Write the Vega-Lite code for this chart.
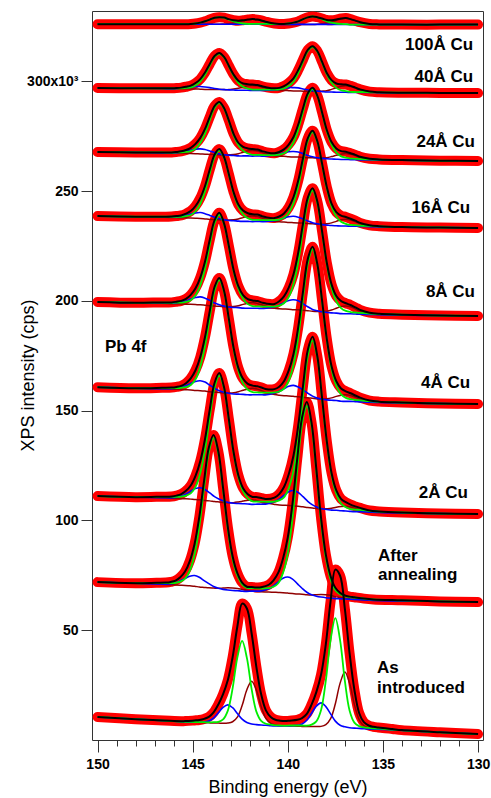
{
  "$schema": "https://vega.github.io/schema/vega-lite/v6.json",
  "width": 391,
  "height": 729,
  "autosize": {"type": "none"},
  "padding": {"left": 92, "top": 11, "right": 8, "bottom": 58},
  "config": {
    "font": "Liberation Sans",
    "view": {"stroke": "#333333", "strokeWidth": 1},
    "axis": {"labelColor": "#000000", "titleColor": "#000000", "tickColor": "#333333", "tickWidth": 1, "grid": false, "domain": false}
  },
  "datasets": {
    "spectra": [
      {"id":"100Å","be":150,"counts":326.0,"main":326.0,"high":326.0,"low":326.0},
      {"id":"100Å","be":148,"counts":326.0,"main":326.0,"high":326.0,"low":326.0},
      {"id":"100Å","be":146.6,"counts":326.0,"main":326.0,"high":326.0,"low":326.0},
      {"id":"100Å","be":146.1,"counts":326.0,"main":326.0,"high":326.0,"low":326.0},
      {"id":"100Å","be":145.85,"counts":326.0,"main":326.0,"high":326.0,"low":326.0},
      {"id":"100Å","be":145.6,"counts":326.0,"main":326.0,"high":326.0,"low":326.0},
      {"id":"100Å","be":145.35,"counts":326.0,"main":326.0,"high":326.0,"low":326.0},
      {"id":"100Å","be":145.1,"counts":326.1,"main":326.1,"high":326.0,"low":326.0},
      {"id":"100Å","be":144.85,"counts":326.3,"main":326.3,"high":326.0,"low":326.0},
      {"id":"100Å","be":144.6,"counts":326.7,"main":326.7,"high":326.0,"low":326.0},
      {"id":"100Å","be":144.35,"counts":327.3,"main":327.3,"high":326.0,"low":326.0},
      {"id":"100Å","be":144.1,"counts":328.1,"main":328.1,"high":326.0,"low":326.0},
      {"id":"100Å","be":143.85,"counts":328.9,"main":328.9,"high":326.0,"low":326.0},
      {"id":"100Å","be":143.6,"counts":329.2,"main":329.2,"high":326.0,"low":326.0},
      {"id":"100Å","be":143.35,"counts":329.0,"main":328.9,"high":326.0,"low":326.1},
      {"id":"100Å","be":143.1,"counts":328.3,"main":328.1,"high":326.0,"low":326.2},
      {"id":"100Å","be":142.85,"counts":327.8,"main":327.3,"high":326.0,"low":326.5},
      {"id":"100Å","be":142.6,"counts":327.6,"main":326.7,"high":326.0,"low":326.9},
      {"id":"100Å","be":142.35,"counts":327.8,"main":326.3,"high":326.0,"low":327.5},
      {"id":"100Å","be":142.1,"counts":328.1,"main":326.1,"high":326.0,"low":328.0},
      {"id":"100Å","be":141.85,"counts":328.3,"main":326.1,"high":326.0,"low":328.2},
      {"id":"100Å","be":141.6,"counts":328.1,"main":326.1,"high":326.0,"low":328.0},
      {"id":"100Å","be":141.35,"counts":327.6,"main":326.1,"high":326.0,"low":327.5},
      {"id":"100Å","be":141.1,"counts":327.0,"main":326.1,"high":326.0,"low":326.9},
      {"id":"100Å","be":140.7,"counts":326.3,"main":326.0,"high":325.9,"low":326.2},
      {"id":"100Å","be":140.45,"counts":326.1,"main":326.0,"high":325.9,"low":326.0},
      {"id":"100Å","be":140.2,"counts":326.1,"main":326.1,"high":325.9,"low":325.9},
      {"id":"100Å","be":139.95,"counts":326.3,"main":326.3,"high":325.9,"low":325.9},
      {"id":"100Å","be":139.7,"counts":326.7,"main":326.7,"high":325.9,"low":325.9},
      {"id":"100Å","be":139.45,"counts":327.3,"main":327.3,"high":325.9,"low":325.9},
      {"id":"100Å","be":139.2,"counts":328.3,"main":328.3,"high":325.9,"low":325.9},
      {"id":"100Å","be":138.95,"counts":329.1,"main":329.1,"high":325.9,"low":325.9},
      {"id":"100Å","be":138.7,"counts":329.5,"main":329.5,"high":325.9,"low":325.9},
      {"id":"100Å","be":138.45,"counts":329.2,"main":329.1,"high":325.9,"low":326.0},
      {"id":"100Å","be":138.2,"counts":328.6,"main":328.3,"high":325.9,"low":326.2},
      {"id":"100Å","be":137.95,"counts":327.9,"main":327.3,"high":325.9,"low":326.5},
      {"id":"100Å","be":137.7,"counts":327.8,"main":326.7,"high":325.9,"low":327.0},
      {"id":"100Å","be":137.45,"counts":328.1,"main":326.3,"high":325.9,"low":327.7},
      {"id":"100Å","be":137.2,"counts":328.6,"main":326.1,"high":325.9,"low":328.4},
      {"id":"100Å","be":136.95,"counts":328.8,"main":326.0,"high":325.9,"low":328.7},
      {"id":"100Å","be":136.7,"counts":328.3,"main":325.8,"high":325.8,"low":328.3},
      {"id":"100Å","be":136.45,"counts":327.6,"main":325.8,"high":325.8,"low":327.6},
      {"id":"100Å","be":136.2,"counts":326.9,"main":325.8,"high":325.8,"low":326.9},
      {"id":"100Å","be":135.7,"counts":326.1,"main":325.8,"high":325.8,"low":326.1},
      {"id":"100Å","be":135.2,"counts":325.9,"main":325.8,"high":325.8,"low":325.9},
      {"id":"100Å","be":134,"counts":325.8,"main":325.8,"high":325.8,"low":325.8},
      {"id":"100Å","be":132,"counts":325.8,"main":325.8,"high":325.8,"low":325.8},
      {"id":"100Å","be":130,"counts":325.8,"main":325.8,"high":325.8,"low":325.8},

      {"id":"40Å","be":150,"counts":296.9,"main":296.9,"high":296.9,"low":296.9},
      {"id":"40Å","be":148,"counts":296.8,"main":296.8,"high":296.8,"low":296.8},
      {"id":"40Å","be":146.6,"counts":296.8,"main":296.8,"high":296.7,"low":296.7},
      {"id":"40Å","be":146.1,"counts":296.8,"main":296.8,"high":296.6,"low":296.6},
      {"id":"40Å","be":145.85,"counts":296.9,"main":296.8,"high":296.7,"low":296.6},
      {"id":"40Å","be":145.6,"counts":297.1,"main":296.8,"high":296.9,"low":296.6},
      {"id":"40Å","be":145.35,"counts":297.5,"main":297.0,"high":297.1,"low":296.6},
      {"id":"40Å","be":145.1,"counts":298.0,"main":297.2,"high":297.3,"low":296.5},
      {"id":"40Å","be":144.85,"counts":299.2,"main":298.1,"high":297.6,"low":296.5},
      {"id":"40Å","be":144.6,"counts":301.0,"main":299.8,"high":297.6,"low":296.4},
      {"id":"40Å","be":144.35,"counts":304.0,"main":302.9,"high":297.4,"low":296.3},
      {"id":"40Å","be":144.1,"counts":307.9,"main":307.1,"high":297.1,"low":296.3},
      {"id":"40Å","be":143.85,"counts":311.5,"main":311.0,"high":296.7,"low":296.2},
      {"id":"40Å","be":143.6,"counts":312.9,"main":312.5,"high":296.4,"low":296.2},
      {"id":"40Å","be":143.35,"counts":311.1,"main":310.9,"high":296.2,"low":296.2},
      {"id":"40Å","be":143.1,"counts":307.1,"main":306.8,"high":296.1,"low":296.2},
      {"id":"40Å","be":142.85,"counts":303.1,"main":302.6,"high":296.0,"low":296.5},
      {"id":"40Å","be":142.6,"counts":300.2,"main":299.3,"high":295.9,"low":296.8},
      {"id":"40Å","be":142.35,"counts":299.0,"main":297.5,"high":295.9,"low":297.4},
      {"id":"40Å","be":142.1,"counts":298.7,"main":296.6,"high":295.9,"low":298.0},
      {"id":"40Å","be":141.85,"counts":298.5,"main":296.2,"high":295.8,"low":298.1},
      {"id":"40Å","be":141.6,"counts":298.3,"main":296.2,"high":295.8,"low":297.9},
      {"id":"40Å","be":141.35,"counts":297.7,"main":296.2,"high":295.8,"low":297.3},
      {"id":"40Å","be":141.1,"counts":297.2,"main":296.2,"high":295.9,"low":296.7},
      {"id":"40Å","be":140.7,"counts":296.8,"main":296.2,"high":296.1,"low":296.1},
      {"id":"40Å","be":140.45,"counts":297.0,"main":296.3,"high":296.3,"low":295.8},
      {"id":"40Å","be":140.2,"counts":297.8,"main":296.7,"high":296.7,"low":295.8},
      {"id":"40Å","be":139.95,"counts":299.2,"main":297.8,"high":297.1,"low":295.7},
      {"id":"40Å","be":139.7,"counts":301.3,"main":299.8,"high":297.1,"low":295.6},
      {"id":"40Å","be":139.45,"counts":305.1,"main":303.7,"high":297.0,"low":295.6},
      {"id":"40Å","be":139.2,"counts":309.8,"main":308.8,"high":296.5,"low":295.5},
      {"id":"40Å","be":138.95,"counts":314.3,"main":313.7,"high":296.1,"low":295.5},
      {"id":"40Å","be":138.7,"counts":316.0,"main":315.6,"high":295.7,"low":295.5},
      {"id":"40Å","be":138.45,"counts":313.8,"main":313.5,"high":295.5,"low":295.4},
      {"id":"40Å","be":138.2,"counts":308.9,"main":308.5,"high":295.3,"low":295.5},
      {"id":"40Å","be":137.95,"counts":303.8,"main":303.2,"high":295.1,"low":295.7},
      {"id":"40Å","be":137.7,"counts":300.5,"main":299.3,"high":295.1,"low":296.3},
      {"id":"40Å","be":137.45,"counts":299.0,"main":297.0,"high":295.0,"low":297.0},
      {"id":"40Å","be":137.2,"counts":298.6,"main":295.9,"high":295.0,"low":297.7},
      {"id":"40Å","be":136.95,"counts":298.5,"main":295.5,"high":295.0,"low":298.0},
      {"id":"40Å","be":136.7,"counts":297.9,"main":295.2,"high":294.9,"low":297.6},
      {"id":"40Å","be":136.45,"counts":297.1,"main":295.1,"high":294.9,"low":296.9},
      {"id":"40Å","be":136.2,"counts":296.3,"main":295.1,"high":294.9,"low":296.1},
      {"id":"40Å","be":135.7,"counts":295.3,"main":295.0,"high":294.9,"low":295.2},
      {"id":"40Å","be":135.2,"counts":295.0,"main":294.9,"high":294.8,"low":294.9},
      {"id":"40Å","be":134,"counts":294.8,"main":294.8,"high":294.7,"low":294.7},
      {"id":"40Å","be":132,"counts":294.7,"main":294.7,"high":294.7,"low":294.7},
      {"id":"40Å","be":130,"counts":294.6,"main":294.6,"high":294.6,"low":294.6},

      {"id":"24Å","be":150,"counts":267.8,"main":267.8,"high":267.8,"low":267.8},
      {"id":"24Å","be":148,"counts":267.6,"main":267.6,"high":267.6,"low":267.6},
      {"id":"24Å","be":146.6,"counts":267.6,"main":267.6,"high":267.4,"low":267.4},
      {"id":"24Å","be":146.1,"counts":267.6,"main":267.5,"high":267.4,"low":267.3},
      {"id":"24Å","be":145.85,"counts":267.8,"main":267.6,"high":267.5,"low":267.3},
      {"id":"24Å","be":145.6,"counts":268.1,"main":267.6,"high":267.7,"low":267.2},
      {"id":"24Å","be":145.35,"counts":268.7,"main":267.8,"high":268.1,"low":267.2},
      {"id":"24Å","be":145.1,"counts":269.7,"main":268.2,"high":268.6,"low":267.1},
      {"id":"24Å","be":144.85,"counts":271.5,"main":269.4,"high":269.1,"low":267.0},
      {"id":"24Å","be":144.6,"counts":274.2,"main":271.9,"high":269.2,"low":266.9},
      {"id":"24Å","be":144.35,"counts":278.3,"main":276.2,"high":268.9,"low":266.8},
      {"id":"24Å","be":144.1,"counts":283.8,"main":282.3,"high":268.2,"low":266.7},
      {"id":"24Å","be":143.85,"counts":288.7,"main":287.8,"high":267.5,"low":266.6},
      {"id":"24Å","be":143.6,"counts":290.6,"main":290.0,"high":266.9,"low":266.5},
      {"id":"24Å","be":143.35,"counts":287.8,"main":287.5,"high":266.5,"low":266.4},
      {"id":"24Å","be":143.1,"counts":282.2,"main":281.8,"high":266.3,"low":266.5},
      {"id":"24Å","be":142.85,"counts":276.1,"main":275.5,"high":266.2,"low":266.6},
      {"id":"24Å","be":142.6,"counts":272.0,"main":271.0,"high":266.0,"low":267.0},
      {"id":"24Å","be":142.35,"counts":270.1,"main":268.4,"high":266.0,"low":267.7},
      {"id":"24Å","be":142.1,"counts":269.4,"main":267.1,"high":266.0,"low":268.3},
      {"id":"24Å","be":141.85,"counts":269.1,"main":266.5,"high":265.9,"low":268.5},
      {"id":"24Å","be":141.6,"counts":268.9,"main":266.5,"high":266.0,"low":268.2},
      {"id":"24Å","be":141.35,"counts":268.2,"main":266.4,"high":265.9,"low":267.5},
      {"id":"24Å","be":141.1,"counts":267.6,"main":266.4,"high":266.0,"low":266.8},
      {"id":"24Å","be":140.7,"counts":267.2,"main":266.4,"high":266.3,"low":266.1},
      {"id":"24Å","be":140.45,"counts":267.8,"main":266.6,"high":266.7,"low":265.9},
      {"id":"24Å","be":140.2,"counts":269.0,"main":267.2,"high":267.4,"low":265.8},
      {"id":"24Å","be":139.95,"counts":271.2,"main":268.9,"high":267.9,"low":265.6},
      {"id":"24Å","be":139.7,"counts":274.6,"main":272.1,"high":268.0,"low":265.5},
      {"id":"24Å","be":139.45,"counts":280.3,"main":278.0,"high":267.8,"low":265.5},
      {"id":"24Å","be":139.2,"counts":287.7,"main":286.0,"high":267.0,"low":265.3},
      {"id":"24Å","be":138.95,"counts":294.4,"main":293.4,"high":266.2,"low":265.2},
      {"id":"24Å","be":138.7,"counts":297.0,"main":296.4,"high":265.6,"low":265.2},
      {"id":"24Å","be":138.45,"counts":293.5,"main":293.1,"high":265.2,"low":265.0},
      {"id":"24Å","be":138.2,"counts":285.9,"main":285.5,"high":264.9,"low":265.1},
      {"id":"24Å","be":137.95,"counts":277.8,"main":277.1,"high":264.7,"low":265.2},
      {"id":"24Å","be":137.7,"counts":272.3,"main":271.2,"high":264.6,"low":265.7},
      {"id":"24Å","be":137.45,"counts":269.4,"main":267.6,"high":264.5,"low":266.3},
      {"id":"24Å","be":137.2,"counts":268.2,"main":265.8,"high":264.4,"low":266.8},
      {"id":"24Å","be":136.95,"counts":267.9,"main":265.2,"high":264.4,"low":267.1},
      {"id":"24Å","be":136.7,"counts":267.2,"main":264.8,"high":264.3,"low":266.7},
      {"id":"24Å","be":136.45,"counts":266.5,"main":264.7,"high":264.3,"low":266.1},
      {"id":"24Å","be":136.2,"counts":265.6,"main":264.5,"high":264.2,"low":265.3},
      {"id":"24Å","be":135.7,"counts":264.7,"main":264.4,"high":264.2,"low":264.5},
      {"id":"24Å","be":135.2,"counts":264.4,"main":264.3,"high":264.1,"low":264.2},
      {"id":"24Å","be":134,"counts":264.1,"main":264.1,"high":264.0,"low":264.0},
      {"id":"24Å","be":132,"counts":263.8,"main":263.8,"high":263.8,"low":263.8},
      {"id":"24Å","be":130,"counts":263.7,"main":263.7,"high":263.7,"low":263.7},

      {"id":"16Å","be":150,"counts":238.6,"main":238.6,"high":238.6,"low":238.6},
      {"id":"16Å","be":148,"counts":238.3,"main":238.3,"high":238.3,"low":238.3},
      {"id":"16Å","be":146.6,"counts":238.3,"main":238.3,"high":238.1,"low":238.1},
      {"id":"16Å","be":146.1,"counts":238.4,"main":238.3,"high":238.1,"low":238.0},
      {"id":"16Å","be":145.85,"counts":238.6,"main":238.3,"high":238.2,"low":237.9},
      {"id":"16Å","be":145.6,"counts":238.9,"main":238.3,"high":238.4,"low":237.8},
      {"id":"16Å","be":145.35,"counts":239.7,"main":238.6,"high":238.9,"low":237.8},
      {"id":"16Å","be":145.1,"counts":240.9,"main":239.1,"high":239.5,"low":237.7},
      {"id":"16Å","be":144.85,"counts":243.2,"main":240.8,"high":240.0,"low":237.6},
      {"id":"16Å","be":144.6,"counts":246.8,"main":244.1,"high":240.2,"low":237.5},
      {"id":"16Å","be":144.35,"counts":252.3,"main":249.9,"high":239.7,"low":237.3},
      {"id":"16Å","be":144.1,"counts":259.8,"main":258.0,"high":238.9,"low":237.1},
      {"id":"16Å","be":143.85,"counts":266.5,"main":265.4,"high":238.1,"low":237.0},
      {"id":"16Å","be":143.6,"counts":269.1,"main":268.4,"high":237.4,"low":236.9},
      {"id":"16Å","be":143.35,"counts":265.5,"main":265.1,"high":237.0,"low":236.8},
      {"id":"16Å","be":143.1,"counts":257.8,"main":257.4,"high":236.6,"low":236.8},
      {"id":"16Å","be":142.85,"counts":249.6,"main":249.0,"high":236.5,"low":236.9},
      {"id":"16Å","be":142.6,"counts":243.9,"main":242.9,"high":236.3,"low":237.3},
      {"id":"16Å","be":142.35,"counts":241.1,"main":239.4,"high":236.2,"low":237.9},
      {"id":"16Å","be":142.1,"counts":239.9,"main":237.6,"high":236.2,"low":238.5},
      {"id":"16Å","be":141.85,"counts":239.4,"main":236.9,"high":236.1,"low":238.6},
      {"id":"16Å","be":141.6,"counts":239.3,"main":236.9,"high":236.2,"low":238.4},
      {"id":"16Å","be":141.35,"counts":238.6,"main":236.8,"high":236.1,"low":237.7},
      {"id":"16Å","be":141.1,"counts":238.0,"main":236.8,"high":236.2,"low":237.0},
      {"id":"16Å","be":140.7,"counts":237.7,"main":236.8,"high":236.5,"low":236.2},
      {"id":"16Å","be":140.45,"counts":238.4,"main":237.0,"high":237.0,"low":236.0},
      {"id":"16Å","be":140.2,"counts":239.8,"main":237.8,"high":237.7,"low":235.9},
      {"id":"16Å","be":139.95,"counts":242.6,"main":240.0,"high":238.3,"low":235.7},
      {"id":"16Å","be":139.7,"counts":247.3,"main":244.4,"high":238.5,"low":235.6},
      {"id":"16Å","be":139.45,"counts":254.8,"main":252.2,"high":238.1,"low":235.5},
      {"id":"16Å","be":139.2,"counts":264.9,"main":263.0,"high":237.3,"low":235.4},
      {"id":"16Å","be":138.95,"counts":274.0,"main":272.8,"high":236.4,"low":235.2},
      {"id":"16Å","be":138.7,"counts":277.5,"main":276.8,"high":235.6,"low":235.1},
      {"id":"16Å","be":138.45,"counts":272.8,"main":272.4,"high":235.1,"low":234.9},
      {"id":"16Å","be":138.2,"counts":262.6,"main":262.2,"high":234.7,"low":234.9},
      {"id":"16Å","be":137.95,"counts":251.9,"main":251.1,"high":234.5,"low":235.1},
      {"id":"16Å","be":137.7,"counts":244.3,"main":243.1,"high":234.3,"low":235.5},
      {"id":"16Å","be":137.45,"counts":240.4,"main":238.4,"high":234.2,"low":236.2},
      {"id":"16Å","be":137.2,"counts":238.8,"main":236.0,"high":234.1,"low":236.9},
      {"id":"16Å","be":136.95,"counts":238.2,"main":235.1,"high":234.1,"low":237.2},
      {"id":"16Å","be":136.7,"counts":237.4,"main":234.6,"high":234.0,"low":236.8},
      {"id":"16Å","be":136.45,"counts":236.5,"main":234.5,"high":234.0,"low":236.0},
      {"id":"16Å","be":136.2,"counts":235.5,"main":234.3,"high":233.9,"low":235.1},
      {"id":"16Å","be":135.7,"counts":234.4,"main":234.1,"high":233.8,"low":234.1},
      {"id":"16Å","be":135.2,"counts":234.0,"main":233.9,"high":233.7,"low":233.8},
      {"id":"16Å","be":134,"counts":233.6,"main":233.6,"high":233.5,"low":233.5},
      {"id":"16Å","be":132,"counts":233.4,"main":233.4,"high":233.4,"low":233.4},
      {"id":"16Å","be":130,"counts":233.2,"main":233.2,"high":233.2,"low":233.2},

      {"id":"8Å","be":150,"counts":199.5,"main":199.5,"high":199.5,"low":199.5},
      {"id":"8Å","be":148,"counts":199.1,"main":199.1,"high":199.1,"low":199.1},
      {"id":"8Å","be":146.6,"counts":199.3,"main":199.2,"high":199.0,"low":198.9},
      {"id":"8Å","be":146.1,"counts":199.3,"main":199.1,"high":198.9,"low":198.7},
      {"id":"8Å","be":145.85,"counts":199.6,"main":199.2,"high":199.1,"low":198.7},
      {"id":"8Å","be":145.6,"counts":200.0,"main":199.2,"high":199.4,"low":198.6},
      {"id":"8Å","be":145.35,"counts":200.9,"main":199.5,"high":199.9,"low":198.5},
      {"id":"8Å","be":145.1,"counts":202.7,"main":200.3,"high":200.8,"low":198.4},
      {"id":"8Å","be":144.85,"counts":205.7,"main":202.5,"high":201.5,"low":198.3},
      {"id":"8Å","be":144.6,"counts":210.6,"main":207.0,"high":201.8,"low":198.2},
      {"id":"8Å","be":144.35,"counts":217.9,"main":214.7,"high":201.2,"low":198.0},
      {"id":"8Å","be":144.1,"counts":227.8,"main":225.4,"high":200.2,"low":197.8},
      {"id":"8Å","be":143.85,"counts":236.6,"main":235.2,"high":199.0,"low":197.6},
      {"id":"8Å","be":143.6,"counts":240.1,"main":239.2,"high":198.2,"low":197.5},
      {"id":"8Å","be":143.35,"counts":235.3,"main":234.8,"high":197.6,"low":197.3},
      {"id":"8Å","be":143.1,"counts":225.1,"main":224.6,"high":197.2,"low":197.3},
      {"id":"8Å","be":142.85,"counts":214.2,"main":213.6,"high":197.0,"low":197.4},
      {"id":"8Å","be":142.6,"counts":206.7,"main":205.6,"high":196.9,"low":197.8},
      {"id":"8Å","be":142.35,"counts":202.6,"main":200.9,"high":196.7,"low":198.4},
      {"id":"8Å","be":142.1,"counts":200.8,"main":198.5,"high":196.6,"low":198.9},
      {"id":"8Å","be":141.85,"counts":200.2,"main":197.6,"high":196.6,"low":199.2},
      {"id":"8Å","be":141.6,"counts":199.9,"main":197.5,"high":196.6,"low":198.8},
      {"id":"8Å","be":141.35,"counts":199.2,"main":197.4,"high":196.5,"low":198.1},
      {"id":"8Å","be":141.1,"counts":198.7,"main":197.4,"high":196.7,"low":197.4},
      {"id":"8Å","be":140.7,"counts":198.6,"main":197.4,"high":197.2,"low":196.6},
      {"id":"8Å","be":140.45,"counts":199.8,"main":197.8,"high":198.0,"low":196.4},
      {"id":"8Å","be":140.2,"counts":202.0,"main":198.9,"high":199.2,"low":196.3},
      {"id":"8Å","be":139.95,"counts":206.0,"main":201.8,"high":200.2,"low":196.2},
      {"id":"8Å","be":139.7,"counts":212.1,"main":207.6,"high":200.5,"low":196.0},
      {"id":"8Å","be":139.45,"counts":222.0,"main":217.9,"high":200.0,"low":195.9},
      {"id":"8Å","be":139.2,"counts":235.1,"main":232.1,"high":198.7,"low":195.7},
      {"id":"8Å","be":138.95,"counts":246.9,"main":245.1,"high":197.3,"low":195.5},
      {"id":"8Å","be":138.7,"counts":251.3,"main":250.3,"high":196.1,"low":195.3},
      {"id":"8Å","be":138.45,"counts":245.3,"main":244.6,"high":195.5,"low":195.2},
      {"id":"8Å","be":138.2,"counts":231.8,"main":231.2,"high":195.0,"low":195.2},
      {"id":"8Å","be":137.95,"counts":217.4,"main":216.6,"high":194.7,"low":195.3},
      {"id":"8Å","be":137.7,"counts":207.5,"main":206.0,"high":194.5,"low":195.8},
      {"id":"8Å","be":137.45,"counts":202.2,"main":199.8,"high":194.4,"low":196.6},
      {"id":"8Å","be":137.2,"counts":199.9,"main":196.7,"high":194.2,"low":197.4},
      {"id":"8Å","be":136.95,"counts":198.9,"main":195.4,"high":194.1,"low":197.6},
      {"id":"8Å","be":136.7,"counts":198.1,"main":194.9,"high":194.1,"low":197.3},
      {"id":"8Å","be":136.45,"counts":197.0,"main":194.7,"high":194.0,"low":196.3},
      {"id":"8Å","be":136.2,"counts":195.9,"main":194.5,"high":193.9,"low":195.3},
      {"id":"8Å","be":135.7,"counts":194.6,"main":194.2,"high":193.8,"low":194.2},
      {"id":"8Å","be":135.2,"counts":194.1,"main":194.0,"high":193.7,"low":193.8},
      {"id":"8Å","be":134,"counts":193.7,"main":193.7,"high":193.5,"low":193.5},
      {"id":"8Å","be":132,"counts":193.3,"main":193.3,"high":193.3,"low":193.3},
      {"id":"8Å","be":130,"counts":193.1,"main":193.1,"high":193.1,"low":193.1},

      {"id":"4Å","be":150,"counts":160.7,"main":160.7,"high":160.7,"low":160.7},
      {"id":"4Å","be":148,"counts":160.2,"main":160.2,"high":160.2,"low":160.2},
      {"id":"4Å","be":146.6,"counts":160.4,"main":160.3,"high":160.0,"low":159.9},
      {"id":"4Å","be":146.1,"counts":160.5,"main":160.3,"high":160.0,"low":159.8},
      {"id":"4Å","be":145.85,"counts":160.8,"main":160.3,"high":160.2,"low":159.7},
      {"id":"4Å","be":145.6,"counts":161.3,"main":160.4,"high":160.5,"low":159.6},
      {"id":"4Å","be":145.35,"counts":162.5,"main":160.7,"high":161.3,"low":159.5},
      {"id":"4Å","be":145.1,"counts":164.7,"main":161.7,"high":162.4,"low":159.4},
      {"id":"4Å","be":144.85,"counts":168.4,"main":164.3,"high":163.3,"low":159.2},
      {"id":"4Å","be":144.6,"counts":174.4,"main":169.9,"high":163.6,"low":159.1},
      {"id":"4Å","be":144.35,"counts":183.5,"main":179.4,"high":163.0,"low":158.9},
      {"id":"4Å","be":144.1,"counts":195.4,"main":192.4,"high":161.6,"low":158.6},
      {"id":"4Å","be":143.85,"counts":206.3,"main":204.5,"high":160.2,"low":158.4},
      {"id":"4Å","be":143.6,"counts":210.4,"main":209.4,"high":159.1,"low":158.3},
      {"id":"4Å","be":143.35,"counts":204.6,"main":204.0,"high":158.4,"low":158.0},
      {"id":"4Å","be":143.1,"counts":192.0,"main":191.5,"high":157.9,"low":158.0},
      {"id":"4Å","be":142.85,"counts":178.7,"main":178.0,"high":157.6,"low":158.1},
      {"id":"4Å","be":142.6,"counts":169.5,"main":168.2,"high":157.5,"low":158.6},
      {"id":"4Å","be":142.35,"counts":164.5,"main":162.4,"high":157.4,"low":159.3},
      {"id":"4Å","be":142.1,"counts":162.2,"main":159.5,"high":157.2,"low":159.9},
      {"id":"4Å","be":141.85,"counts":161.4,"main":158.4,"high":157.2,"low":160.2},
      {"id":"4Å","be":141.6,"counts":161.1,"main":158.3,"high":157.2,"low":159.8},
      {"id":"4Å","be":141.35,"counts":160.4,"main":158.2,"high":157.2,"low":159.0},
      {"id":"4Å","be":141.1,"counts":159.7,"main":158.2,"high":157.2,"low":158.1},
      {"id":"4Å","be":140.7,"counts":159.8,"main":158.3,"high":158.0,"low":157.3},
      {"id":"4Å","be":140.45,"counts":160.9,"main":158.7,"high":158.8,"low":157.0},
      {"id":"4Å","be":140.2,"counts":163.4,"main":160.0,"high":160.0,"low":156.8},
      {"id":"4Å","be":139.95,"counts":168.3,"main":163.7,"high":161.1,"low":156.7},
      {"id":"4Å","be":139.7,"counts":175.8,"main":170.8,"high":161.5,"low":156.5},
      {"id":"4Å","be":139.45,"counts":188.0,"main":183.5,"high":160.8,"low":156.3},
      {"id":"4Å","be":139.2,"counts":204.2,"main":200.9,"high":159.4,"low":156.1},
      {"id":"4Å","be":138.95,"counts":219.0,"main":217.0,"high":157.9,"low":155.9},
      {"id":"4Å","be":138.7,"counts":224.6,"main":223.4,"high":156.6,"low":155.6},
      {"id":"4Å","be":138.45,"counts":216.9,"main":216.3,"high":155.7,"low":155.3},
      {"id":"4Å","be":138.2,"counts":200.3,"main":199.8,"high":155.2,"low":155.3},
      {"id":"4Å","be":137.95,"counts":182.7,"main":182.0,"high":154.9,"low":155.4},
      {"id":"4Å","be":137.7,"counts":170.2,"main":168.9,"high":154.7,"low":155.8},
      {"id":"4Å","be":137.45,"counts":163.4,"main":161.3,"high":154.6,"low":156.5},
      {"id":"4Å","be":137.2,"counts":160.1,"main":157.4,"high":154.3,"low":157.0},
      {"id":"4Å","be":136.95,"counts":158.8,"main":155.8,"high":154.2,"low":157.2},
      {"id":"4Å","be":136.7,"counts":157.9,"main":155.2,"high":154.2,"low":156.9},
      {"id":"4Å","be":136.45,"counts":156.9,"main":154.9,"high":154.1,"low":156.1},
      {"id":"4Å","be":136.2,"counts":155.9,"main":154.7,"high":154.0,"low":155.2},
      {"id":"4Å","be":135.7,"counts":154.6,"main":154.3,"high":153.8,"low":154.1},
      {"id":"4Å","be":135.2,"counts":154.1,"main":154.0,"high":153.7,"low":153.8},
      {"id":"4Å","be":134,"counts":153.7,"main":153.7,"high":153.5,"low":153.5},
      {"id":"4Å","be":132,"counts":153.2,"main":153.2,"high":153.2,"low":153.2},
      {"id":"4Å","be":130,"counts":153.0,"main":153.0,"high":153.0,"low":153.0},

      {"id":"2Å","be":150,"counts":111.1,"main":111.1,"high":111.1,"low":111.1},
      {"id":"2Å","be":148,"counts":110.6,"main":110.6,"high":110.6,"low":110.6},
      {"id":"2Å","be":146.6,"counts":110.8,"main":110.7,"high":110.4,"low":110.3},
      {"id":"2Å","be":146.1,"counts":110.9,"main":110.7,"high":110.3,"low":110.1},
      {"id":"2Å","be":145.85,"counts":111.3,"main":110.7,"high":110.6,"low":110.0},
      {"id":"2Å","be":145.6,"counts":112.0,"main":110.8,"high":111.1,"low":109.9},
      {"id":"2Å","be":145.35,"counts":113.5,"main":111.3,"high":112.1,"low":109.9},
      {"id":"2Å","be":145.1,"counts":115.9,"main":112.3,"high":113.3,"low":109.7},
      {"id":"2Å","be":144.85,"counts":120.3,"main":115.3,"high":114.5,"low":109.5},
      {"id":"2Å","be":144.6,"counts":127.0,"main":121.5,"high":114.9,"low":109.4},
      {"id":"2Å","be":144.35,"counts":137.1,"main":132.1,"high":114.1,"low":109.1},
      {"id":"2Å","be":144.1,"counts":150.5,"main":146.9,"high":112.5,"low":108.9},
      {"id":"2Å","be":143.85,"counts":162.6,"main":160.4,"high":110.8,"low":108.6},
      {"id":"2Å","be":143.6,"counts":167.1,"main":165.9,"high":109.6,"low":108.4},
      {"id":"2Å","be":143.35,"counts":160.6,"main":159.9,"high":108.7,"low":108.2},
      {"id":"2Å","be":143.1,"counts":146.3,"main":145.9,"high":108.1,"low":108.1},
      {"id":"2Å","be":142.85,"counts":131.2,"main":130.7,"high":107.8,"low":108.1},
      {"id":"2Å","be":142.6,"counts":120.6,"main":119.7,"high":107.7,"low":108.4},
      {"id":"2Å","be":142.35,"counts":114.7,"main":113.3,"high":107.6,"low":108.8},
      {"id":"2Å","be":142.1,"counts":111.9,"main":110.0,"high":107.5,"low":109.2},
      {"id":"2Å","be":141.85,"counts":110.7,"main":108.7,"high":107.3,"low":109.3},
      {"id":"2Å","be":141.6,"counts":110.6,"main":108.6,"high":107.4,"low":109.0},
      {"id":"2Å","be":141.35,"counts":110.1,"main":108.6,"high":107.4,"low":108.5},
      {"id":"2Å","be":141.1,"counts":109.7,"main":108.5,"high":107.5,"low":107.9},
      {"id":"2Å","be":140.7,"counts":110.4,"main":108.6,"high":108.5,"low":107.3},
      {"id":"2Å","be":140.45,"counts":112.0,"main":109.1,"high":109.7,"low":107.0},
      {"id":"2Å","be":140.2,"counts":115.2,"main":110.5,"high":111.4,"low":106.9},
      {"id":"2Å","be":139.95,"counts":121.0,"main":114.7,"high":113.1,"low":106.8},
      {"id":"2Å","be":139.7,"counts":129.6,"main":122.6,"high":113.6,"low":106.6},
      {"id":"2Å","be":139.45,"counts":143.3,"main":137.0,"high":112.7,"low":106.4},
      {"id":"2Å","be":139.2,"counts":161.2,"main":156.6,"high":110.8,"low":106.2},
      {"id":"2Å","be":138.95,"counts":177.5,"main":174.7,"high":108.7,"low":105.9},
      {"id":"2Å","be":138.7,"counts":183.6,"main":182.0,"high":107.1,"low":105.7},
      {"id":"2Å","be":138.45,"counts":174.9,"main":174.1,"high":106.0,"low":105.4},
      {"id":"2Å","be":138.2,"counts":155.9,"main":155.4,"high":105.3,"low":105.2},
      {"id":"2Å","be":137.95,"counts":136.1,"main":135.4,"high":105.0,"low":105.3},
      {"id":"2Å","be":137.7,"counts":121.6,"main":120.6,"high":104.7,"low":105.5},
      {"id":"2Å","be":137.45,"counts":113.7,"main":112.1,"high":104.6,"low":106.0},
      {"id":"2Å","be":137.2,"counts":109.8,"main":107.7,"high":104.4,"low":106.3},
      {"id":"2Å","be":136.95,"counts":108.3,"main":106.0,"high":104.3,"low":106.4},
      {"id":"2Å","be":136.7,"counts":107.2,"main":105.2,"high":104.1,"low":106.1},
      {"id":"2Å","be":136.45,"counts":106.4,"main":104.9,"high":104.0,"low":105.5},
      {"id":"2Å","be":136.2,"counts":105.7,"main":104.8,"high":104.0,"low":104.9},
      {"id":"2Å","be":135.7,"counts":104.5,"main":104.3,"high":103.8,"low":104.0},
      {"id":"2Å","be":135.2,"counts":104.1,"main":104.0,"high":103.6,"low":103.7},
      {"id":"2Å","be":134,"counts":103.6,"main":103.6,"high":103.4,"low":103.4},
      {"id":"2Å","be":132,"counts":103.1,"main":103.1,"high":103.1,"low":103.1},
      {"id":"2Å","be":130,"counts":102.9,"main":102.9,"high":102.9,"low":102.9},

      {"id":"annealed","be":150,"counts":71.9,"main":71.9,"high":71.9,"low":71.9},
      {"id":"annealed","be":148,"counts":71.4,"main":71.4,"high":71.4,"low":71.4},
      {"id":"annealed","be":146.9,"counts":71.6,"main":71.5,"high":71.1,"low":71.0},
      {"id":"annealed","be":146.4,"counts":71.7,"main":71.5,"high":71.0,"low":70.8},
      {"id":"annealed","be":146.15,"counts":72.0,"main":71.5,"high":71.2,"low":70.7},
      {"id":"annealed","be":145.9,"counts":72.6,"main":71.6,"high":71.6,"low":70.6},
      {"id":"annealed","be":145.65,"counts":74.1,"main":72.1,"high":72.5,"low":70.5},
      {"id":"annealed","be":145.4,"counts":76.7,"main":73.5,"high":73.6,"low":70.4},
      {"id":"annealed","be":145.15,"counts":81.5,"main":77.1,"high":74.6,"low":70.2},
      {"id":"annealed","be":144.9,"counts":89.3,"main":84.4,"high":74.9,"low":70.0},
      {"id":"annealed","be":144.65,"counts":101.6,"main":97.2,"high":74.1,"low":69.7},
      {"id":"annealed","be":144.4,"counts":118.0,"main":114.7,"high":72.6,"low":69.5},
      {"id":"annealed","be":144.15,"counts":133.1,"main":131.0,"high":71.2,"low":69.3},
      {"id":"annealed","be":143.9,"counts":138.9,"main":137.6,"high":69.9,"low":69.2},
      {"id":"annealed","be":143.65,"counts":131.4,"main":130.4,"high":69.1,"low":69.1},
      {"id":"annealed","be":143.4,"counts":114.7,"main":113.7,"high":68.6,"low":69.2},
      {"id":"annealed","be":143.15,"counts":96.9,"main":95.7,"high":68.3,"low":69.3},
      {"id":"annealed","be":142.9,"counts":83.7,"main":82.4,"high":68.1,"low":69.2},
      {"id":"annealed","be":142.65,"counts":76.0,"main":74.8,"high":68.0,"low":69.0},
      {"id":"annealed","be":142.4,"counts":71.7,"main":70.9,"high":67.8,"low":68.6},
      {"id":"annealed","be":142.15,"counts":69.8,"main":69.3,"high":67.7,"low":68.2},
      {"id":"annealed","be":141.9,"counts":69.7,"main":69.2,"high":67.8,"low":67.9},
      {"id":"annealed","be":141.65,"counts":69.5,"main":69.1,"high":67.8,"low":67.6},
      {"id":"annealed","be":141.4,"counts":69.6,"main":69.0,"high":67.9,"low":67.5},
      {"id":"annealed","be":141.0,"counts":70.7,"main":69.2,"high":68.9,"low":67.4},
      {"id":"annealed","be":140.75,"counts":72.7,"main":69.8,"high":70.2,"low":67.3},
      {"id":"annealed","be":140.5,"counts":76.2,"main":71.4,"high":72.0,"low":67.2},
      {"id":"annealed","be":140.25,"counts":82.7,"main":76.1,"high":73.7,"low":67.1},
      {"id":"annealed","be":140.0,"counts":92.3,"main":85.0,"high":74.2,"low":66.9},
      {"id":"annealed","be":139.75,"counts":107.8,"main":101.2,"high":73.3,"low":66.7},
      {"id":"annealed","be":139.5,"counts":128.3,"main":123.4,"high":71.2,"low":66.5},
      {"id":"annealed","be":139.25,"counts":146.8,"main":143.9,"high":69.1,"low":66.4},
      {"id":"annealed","be":139.0,"counts":153.9,"main":152.1,"high":67.3,"low":66.1},
      {"id":"annealed","be":138.75,"counts":144.4,"main":143.1,"high":66.1,"low":66.0},
      {"id":"annealed","be":138.5,"counts":123.5,"main":122.2,"high":65.5,"low":66.2},
      {"id":"annealed","be":138.25,"counts":101.0,"main":99.4,"high":65.1,"low":66.3},
      {"id":"annealed","be":138.0,"counts":84.4,"main":82.8,"high":64.8,"low":66.2},
      {"id":"annealed","be":137.75,"counts":74.6,"main":73.1,"high":64.6,"low":65.9},
      {"id":"annealed","be":137.5,"counts":69.3,"main":68.2,"high":64.4,"low":65.3},
      {"id":"annealed","be":137.25,"counts":67.0,"main":66.4,"high":64.3,"low":64.9},
      {"id":"annealed","be":137.0,"counts":65.8,"main":65.5,"high":64.2,"low":64.5},
      {"id":"annealed","be":136.75,"counts":65.3,"main":65.1,"high":64.1,"low":64.3},
      {"id":"annealed","be":136.5,"counts":65.0,"main":64.9,"high":64.0,"low":64.1},
      {"id":"annealed","be":136.0,"counts":64.4,"main":64.4,"high":63.8,"low":63.8},
      {"id":"annealed","be":135.5,"counts":64.0,"main":64.0,"high":63.6,"low":63.6},
      {"id":"annealed","be":134,"counts":63.6,"main":63.6,"high":63.3,"low":63.3},
      {"id":"annealed","be":132,"counts":63.1,"main":63.1,"high":63.1,"low":63.1},
      {"id":"annealed","be":130,"counts":62.8,"main":62.8,"high":62.8,"low":62.8},

      {"id":"as-introduced","be":150,"counts":10.5,"main":10.5,"high":10.5,"low":10.5},
      {"id":"as-introduced","be":148,"counts":9.5,"main":9.5,"high":9.5,"low":9.5},
      {"id":"as-introduced","be":146.5,"counts":8.9,"main":8.8,"high":8.8,"low":8.8},
      {"id":"as-introduced","be":145.4,"counts":8.6,"main":8.3,"high":8.2,"low":8.2},
      {"id":"as-introduced","be":144.9,"counts":8.9,"main":8.2,"high":8.1,"low":8.1},
      {"id":"as-introduced","be":144.65,"counts":9.1,"main":8.1,"high":8.1,"low":8.0},
      {"id":"as-introduced","be":144.4,"counts":9.6,"main":8.1,"high":8.2,"low":7.9},
      {"id":"as-introduced","be":144.15,"counts":10.5,"main":8.0,"high":8.7,"low":7.8},
      {"id":"as-introduced","be":143.9,"counts":12.6,"main":8.1,"high":10.0,"low":7.7},
      {"id":"as-introduced","be":143.65,"counts":16.2,"main":8.3,"high":12.4,"low":7.7},
      {"id":"as-introduced","be":143.4,"counts":20.9,"main":9.4,"high":14.9,"low":7.6},
      {"id":"as-introduced","be":143.15,"counts":27.3,"main":13.4,"high":16.0,"low":7.7},
      {"id":"as-introduced","be":142.9,"counts":37.7,"main":23.5,"high":14.7,"low":8.3},
      {"id":"as-introduced","be":142.65,"counts":51.7,"main":37.6,"high":12.1,"low":10.4},
      {"id":"as-introduced","be":142.4,"counts":62.1,"main":45.1,"high":9.5,"low":15.7},
      {"id":"as-introduced","be":142.15,"counts":59.9,"main":37.4,"high":8.0,"low":22.9},
      {"id":"as-introduced","be":141.9,"counts":48.5,"main":23.2,"high":7.3,"low":26.8},
      {"id":"as-introduced","be":141.65,"counts":33.2,"main":12.9,"high":7.0,"low":22.7},
      {"id":"as-introduced","be":141.4,"counts":20.8,"main":8.7,"high":6.8,"low":15.3},
      {"id":"as-introduced","be":141.15,"counts":13.5,"main":7.4,"high":6.7,"low":9.8},
      {"id":"as-introduced","be":140.9,"counts":10.5,"main":7.0,"high":6.5,"low":7.6},
      {"id":"as-introduced","be":140.65,"counts":9.2,"main":6.7,"high":6.4,"low":6.8},
      {"id":"as-introduced","be":140.4,"counts":8.8,"main":6.6,"high":6.4,"low":6.5},
      {"id":"as-introduced","be":140.15,"counts":8.6,"main":6.5,"high":6.4,"low":6.5},
      {"id":"as-introduced","be":139.9,"counts":8.8,"main":6.6,"high":6.4,"low":6.4},
      {"id":"as-introduced","be":139.5,"counts":9.2,"main":6.6,"high":6.7,"low":6.3},
      {"id":"as-introduced","be":139.25,"counts":10.0,"main":6.6,"high":7.3,"low":6.2},
      {"id":"as-introduced","be":139.0,"counts":11.9,"main":6.5,"high":9.0,"low":6.1},
      {"id":"as-introduced","be":138.75,"counts":16.1,"main":7.0,"high":12.2,"low":6.1},
      {"id":"as-introduced","be":138.5,"counts":21.8,"main":8.5,"high":15.4,"low":6.1},
      {"id":"as-introduced","be":138.25,"counts":29.8,"main":13.7,"high":16.9,"low":6.2},
      {"id":"as-introduced","be":138.0,"counts":43.7,"main":27.1,"high":15.2,"low":7.0},
      {"id":"as-introduced","be":137.75,"counts":63.2,"main":45.6,"high":11.9,"low":9.7},
      {"id":"as-introduced","be":137.5,"counts":77.6,"main":55.5,"high":8.6,"low":16.5},
      {"id":"as-introduced","be":137.25,"counts":74.8,"main":45.4,"high":6.7,"low":25.9},
      {"id":"as-introduced","be":137.0,"counts":59.7,"main":26.9,"high":6.0,"low":31.0},
      {"id":"as-introduced","be":136.75,"counts":39.3,"main":13.3,"high":5.6,"low":25.8},
      {"id":"as-introduced","be":136.5,"counts":22.9,"main":7.9,"high":5.4,"low":16.2},
      {"id":"as-introduced","be":136.25,"counts":12.3,"main":6.3,"high":5.3,"low":9.3},
      {"id":"as-introduced","be":136.0,"counts":8.1,"main":5.7,"high":5.1,"low":6.5},
      {"id":"as-introduced","be":135.75,"counts":6.6,"main":5.5,"high":5.0,"low":5.5},
      {"id":"as-introduced","be":135.5,"counts":6.0,"main":5.3,"high":4.9,"low":5.2},
      {"id":"as-introduced","be":135.25,"counts":5.7,"main":5.2,"high":4.9,"low":5.1},
      {"id":"as-introduced","be":135.0,"counts":5.5,"main":5.1,"high":4.8,"low":5.0},
      {"id":"as-introduced","be":134.5,"counts":5.0,"main":4.7,"high":4.6,"low":4.7},
      {"id":"as-introduced","be":134.0,"counts":4.5,"main":4.4,"high":4.4,"low":4.4},
      {"id":"as-introduced","be":132,"counts":3.5,"main":3.5,"high":3.5,"low":3.5},
      {"id":"as-introduced","be":130,"counts":2.7,"main":2.7,"high":2.7,"low":2.7}
    ],
    "labels": [
      {"label":"100Å Cu","be":130.26,"kcps":314.2,"anchor":"end"},
      {"label":"40Å Cu","be":130.26,"kcps":299.7,"anchor":"end"},
      {"label":"24Å Cu","be":130.16,"kcps":270.1,"anchor":"end"},
      {"label":"16Å Cu","be":130.42,"kcps":240.0,"anchor":"end"},
      {"label":"8Å Cu","be":130.16,"kcps":201.8,"anchor":"end"},
      {"label":"4Å Cu","be":130.42,"kcps":160.3,"anchor":"end"},
      {"label":"2Å Cu","be":130.53,"kcps":110.2,"anchor":"end"},
      {"label":"After","be":135.26,"kcps":81.3,"anchor":"start"},
      {"label":"annealing","be":135.26,"kcps":72.9,"anchor":"start"},
      {"label":"As","be":135.31,"kcps":30.5,"anchor":"start"},
      {"label":"introduced","be":135.31,"kcps":21.4,"anchor":"start"},
      {"label":"Pb 4f","be":149.61,"kcps":176.7,"anchor":"start"}
    ]
  },
  "encoding": {
    "x": {
      "field": "be",
      "type": "quantitative",
      "title": "Binding energy (eV)",
      "scale": {"domain": [129.74, 150.29], "reverse": true, "nice": false, "zero": false},
      "axis": {
        "values": [130,131,132,133,134,135,136,137,138,139,140,141,142,143,144,145,146,147,148,149,150],
        "labelExpr": "datum.value % 5 === 0 ? datum.label : ''",
        "tickSize": {"condition": {"test": "datum.value % 5 === 0", "value": 12}, "value": 6},
        "labelPadding": 5,
        "labelFontSize": 14,
        "labelFontWeight": "bold",
        "labelFlush": false,
        "labelOverlap": false,
        "titleFontSize": 18,
        "titleFontWeight": "normal",
        "titleY": 52,
        "titleBaseline": "alphabetic"
      }
    }
  },
  "layer": [
    {
      "data": {"name": "spectra"},
      "mark": {"type": "line", "color": "#ff0000", "strokeWidth": 10, "interpolate": "catmull-rom", "strokeCap": "round", "strokeJoin": "round"},
      "encoding": {
        "y": {"field": "counts", "type": "quantitative", "title": "XPS intensity (cps)", "scale": {"domain": [0, 332], "nice": false, "zero": false},
          "axis": {"values": [50,100,150,200,250,300], "labelExpr": "datum.value === 300 ? '300x10³' : datum.label", "tickSize": 11, "labelPadding": 3, "labelFontSize": 14, "labelFontWeight": "bold", "labelFlush": false, "labelOverlap": false, "titleFontSize": 18, "titleFontWeight": "normal", "titleX": -59, "titleY": 364, "titleAngle": -90, "titleBaseline": "alphabetic", "titleAlign": "center"}},
        "detail": {"field": "id"}
      }
    },
    {
      "data": {"name": "spectra"},
      "mark": {"type": "line", "color": "#900000", "strokeWidth": 1.5, "interpolate": "catmull-rom"},
      "encoding": {
        "y": {"field": "low", "type": "quantitative", "title": "XPS intensity (cps)", "scale": {"domain": [0, 332], "nice": false, "zero": false},
          "axis": {"values": [50,100,150,200,250,300], "labelExpr": "datum.value === 300 ? '300x10³' : datum.label", "tickSize": 11, "labelPadding": 3, "labelFontSize": 14, "labelFontWeight": "bold", "labelFlush": false, "labelOverlap": false, "titleFontSize": 18, "titleFontWeight": "normal", "titleX": -59, "titleY": 364, "titleAngle": -90, "titleBaseline": "alphabetic", "titleAlign": "center"}},
        "detail": {"field": "id"}
      }
    },
    {
      "data": {"name": "spectra"},
      "mark": {"type": "line", "color": "#0000ff", "strokeWidth": 1.6, "interpolate": "catmull-rom"},
      "encoding": {
        "y": {"field": "high", "type": "quantitative", "title": "XPS intensity (cps)", "scale": {"domain": [0, 332], "nice": false, "zero": false},
          "axis": {"values": [50,100,150,200,250,300], "labelExpr": "datum.value === 300 ? '300x10³' : datum.label", "tickSize": 11, "labelPadding": 3, "labelFontSize": 14, "labelFontWeight": "bold", "labelFlush": false, "labelOverlap": false, "titleFontSize": 18, "titleFontWeight": "normal", "titleX": -59, "titleY": 364, "titleAngle": -90, "titleBaseline": "alphabetic", "titleAlign": "center"}},
        "detail": {"field": "id"}
      }
    },
    {
      "data": {"name": "spectra"},
      "mark": {"type": "line", "color": "#00ee00", "strokeWidth": 1.8, "interpolate": "catmull-rom"},
      "encoding": {
        "y": {"field": "main", "type": "quantitative", "title": "XPS intensity (cps)", "scale": {"domain": [0, 332], "nice": false, "zero": false},
          "axis": {"values": [50,100,150,200,250,300], "labelExpr": "datum.value === 300 ? '300x10³' : datum.label", "tickSize": 11, "labelPadding": 3, "labelFontSize": 14, "labelFontWeight": "bold", "labelFlush": false, "labelOverlap": false, "titleFontSize": 18, "titleFontWeight": "normal", "titleX": -59, "titleY": 364, "titleAngle": -90, "titleBaseline": "alphabetic", "titleAlign": "center"}},
        "detail": {"field": "id"}
      }
    },
    {
      "data": {"name": "spectra"},
      "mark": {"type": "line", "color": "#000000", "strokeWidth": 2, "interpolate": "catmull-rom"},
      "encoding": {
        "y": {"field": "counts", "type": "quantitative", "title": "XPS intensity (cps)", "scale": {"domain": [0, 332], "nice": false, "zero": false},
          "axis": {"values": [50,100,150,200,250,300], "labelExpr": "datum.value === 300 ? '300x10³' : datum.label", "tickSize": 11, "labelPadding": 3, "labelFontSize": 14, "labelFontWeight": "bold", "labelFlush": false, "labelOverlap": false, "titleFontSize": 18, "titleFontWeight": "normal", "titleX": -59, "titleY": 364, "titleAngle": -90, "titleBaseline": "alphabetic", "titleAlign": "center"}},
        "detail": {"field": "id"}
      }
    },
    {
      "data": {"name": "labels"},
      "transform": [{"filter": "datum.anchor === 'end'"}],
      "mark": {"type": "text", "align": "right", "baseline": "alphabetic", "fontSize": 17, "fontWeight": "bold", "color": "#000000"},
      "encoding": {
        "y": {"field": "kcps", "type": "quantitative", "title": "XPS intensity (cps)", "scale": {"domain": [0, 332], "nice": false, "zero": false},
          "axis": {"values": [50,100,150,200,250,300], "labelExpr": "datum.value === 300 ? '300x10³' : datum.label", "tickSize": 11, "labelPadding": 3, "labelFontSize": 14, "labelFontWeight": "bold", "labelFlush": false, "labelOverlap": false, "titleFontSize": 18, "titleFontWeight": "normal", "titleX": -59, "titleY": 364, "titleAngle": -90, "titleBaseline": "alphabetic", "titleAlign": "center"}},
        "text": {"field": "label"}
      }
    },
    {
      "data": {"name": "labels"},
      "transform": [{"filter": "datum.anchor === 'start'"}],
      "mark": {"type": "text", "align": "left", "baseline": "alphabetic", "fontSize": 17, "fontWeight": "bold", "color": "#000000"},
      "encoding": {
        "y": {"field": "kcps", "type": "quantitative", "title": "XPS intensity (cps)", "scale": {"domain": [0, 332], "nice": false, "zero": false},
          "axis": {"values": [50,100,150,200,250,300], "labelExpr": "datum.value === 300 ? '300x10³' : datum.label", "tickSize": 11, "labelPadding": 3, "labelFontSize": 14, "labelFontWeight": "bold", "labelFlush": false, "labelOverlap": false, "titleFontSize": 18, "titleFontWeight": "normal", "titleX": -59, "titleY": 364, "titleAngle": -90, "titleBaseline": "alphabetic", "titleAlign": "center"}},
        "text": {"field": "label"}
      }
    }
  ]
}
